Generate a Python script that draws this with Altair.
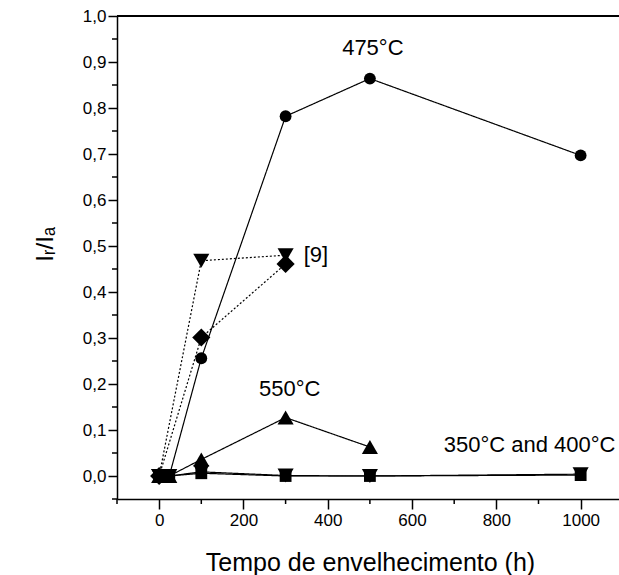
import altair as alt
import pandas as pd

# ---- data ----
x_475 = [0, 24, 100, 300, 500, 1000]
y_475 = [0.0, 0.0, 0.256, 0.782, 0.864, 0.697]

x_550 = [0, 24, 100, 300, 500]
y_550 = [0.0, 0.0, 0.036, 0.127, 0.063]

x_350 = [0, 24, 100, 300, 500, 1000]
y_350 = [0.0, 0.0, 0.006, 0.0, 0.0, 0.002]

x_400 = [0, 24, 100, 300, 500, 1000]
y_400 = [0.0, 0.0, 0.009, 0.001, 0.0, 0.004]

x_ref9_tri = [0, 100, 300]
y_ref9_tri = [0.0, 0.468, 0.48]

x_ref9_dia = [0, 100, 300]
y_ref9_dia = [0.0, 0.301, 0.461]

ann_text = ["475°C", "550°C", "350°C and 400°C", "[9]"]
ann_x = [507, 310, 879, 343]
ann_y = [0.93, 0.19, 0.067, 0.48]
ann_align = ["center", "center", "center", "left"]

# axis tick positions
x_major = [0, 200, 400, 600, 800, 1000]
x_minor = [-100, 100, 300, 500, 700, 900]
y_major = [0.0, 0.1, 0.2, 0.3, 0.4, 0.5, 0.6, 0.7, 0.8, 0.9, 1.0]
y_minor = [-0.05, 0.05, 0.15, 0.25, 0.35, 0.45, 0.55, 0.65, 0.75, 0.85, 0.95]

series_names = ["475", "550", "350", "400", "ref9a", "ref9b"]
series_x = [x_475, x_550, x_350, x_400, x_ref9_tri, x_ref9_dia]
series_y = [y_475, y_550, y_350, y_400, y_ref9_tri, y_ref9_dia]
series_shape = ["circle", "triangle-up", "square", "triangle-down", "triangle-down", "diamond"]
series_dash = ["solid", "solid", "solid", "solid", "dotted", "dotted"]

rows = []
for name, xs, ys, shp, dsh in zip(series_names, series_x, series_y, series_shape, series_dash):
    for xv, yv in zip(xs, ys):
        rows.append({"series": name, "x": xv, "y": yv, "shape": shp, "dash": dsh})
df = pd.DataFrame(rows)

ann = pd.DataFrame({"text": ann_text, "x": ann_x, "y": ann_y, "align": ann_align})
xminor_df = pd.DataFrame({"x": x_minor})
yminor_df = pd.DataFrame({"y": y_minor})

W = 502
H = 483
FONT = "Liberation Sans"

x_scale = alt.Scale(domain=[-100, 1091], nice=False, zero=False)
y_scale = alt.Scale(domain=[-0.05, 1.0], nice=False, zero=False)

x_axis = alt.Axis(
    values=x_major,
    format="d",
    tickSize=10,
    grid=False,
    title="Tempo de envelhecimento (h)",
    titleFontSize=25,
    titleFontWeight="normal",
    titleFont=FONT,
    titleBaseline="alphabetic",
    titleY=71,
    titleX=253,
    labelFontSize=17,
    labelFont=FONT,
    labelPadding=3,
    labelFlush=False,
    labelOverlap=False,
)

y_axis = alt.Axis(
    values=y_major,
    format=".1f",
    labelExpr="replace(datum.label, '.', ',')",
    tickSize=9,
    grid=False,
    title="Iᵣ/Iₐ",
    titleFontSize=24,
    titleFontWeight="normal",
    titleFont=FONT,
    titleX=-72,
    titleY=228,
    titleAlign="center",
    titleBaseline="middle",
    labelFontSize=17,
    labelFont=FONT,
    labelPadding=2,
    labelFlush=False,
    labelOverlap=False,
)

base = alt.Chart(df)

lines = base.mark_line(color="black", strokeWidth=1.2).encode(
    x=alt.X("x:Q", scale=x_scale, axis=x_axis),
    y=alt.Y("y:Q", scale=y_scale, axis=y_axis),
    detail="series:N",
    strokeDash=alt.StrokeDash(
        "dash:N",
        scale=alt.Scale(domain=["solid", "dotted"], range=[[1, 0], [2, 2]]),
        legend=None,
    ),
)

marker_sizes = [
    ("triangle-down", 260),
    ("square", 140),
    ("circle", 140),
    ("triangle-up", 260),
    ("diamond", 330),
]
point_layers = []
for shp, sz in marker_sizes:
    point_layers.append(
        base.transform_filter(alt.datum.shape == shp)
        .mark_point(filled=True, color="black", opacity=1, shape=shp, size=sz)
        .encode(x="x:Q", y="y:Q")
    )

ann_chart = alt.Chart(ann)
labels_center = ann_chart.transform_filter("datum.align == 'center'").mark_text(
    fontSize=22, font=FONT, color="black", baseline="middle", align="center"
).encode(x="x:Q", y="y:Q", text="text:N")
labels_left = ann_chart.transform_filter("datum.align == 'left'").mark_text(
    fontSize=22, font=FONT, color="black", baseline="middle", align="left"
).encode(x="x:Q", y="y:Q", text="text:N")

x_minor_ticks = alt.Chart(xminor_df).mark_rule(color="black", strokeWidth=1.5).encode(
    x="x:Q", y=alt.value(H), y2=alt.value(H + 5)
)
y_minor_ticks = alt.Chart(yminor_df).mark_rule(color="black", strokeWidth=1.5).encode(
    y="y:Q", x=alt.value(-5), x2=alt.value(0)
)

top_border = alt.Chart(df).mark_rule(color="black", strokeWidth=1.5).encode(
    x=alt.value(0), x2=alt.value(W), y=alt.value(0)
)

chart = alt.layer(
    lines, *point_layers, labels_center, labels_left, x_minor_ticks, y_minor_ticks, top_border
).properties(
    width=W,
    height=H,
    autosize=alt.AutoSizeParams(type="none"),
    padding={"left": 117, "top": 16, "right": 0, "bottom": 76},
    background="white",
).configure_view(stroke=None).configure_axis(
    domainColor="black",
    domainWidth=1.5,
    tickColor="black",
    tickWidth=1.5,
    labelColor="black",
    titleColor="black",
)

chart.save("out.html", embed_options={"renderer": "svg", "actions": False})
